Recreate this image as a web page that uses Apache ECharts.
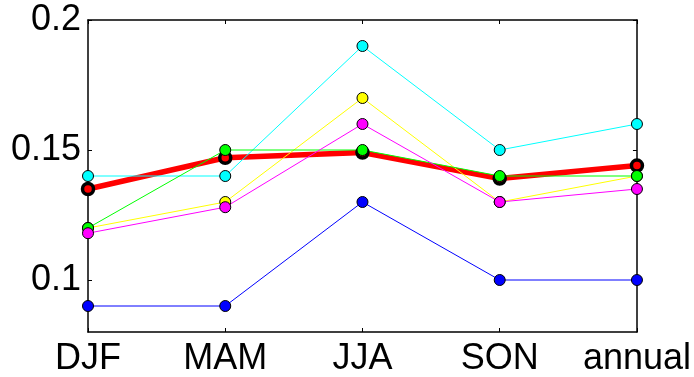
<!DOCTYPE html>
<html>
<head>
<meta charset="utf-8">
<script src="https://cdn.jsdelivr.net/npm/echarts@6/dist/echarts.min.js"></script>
<style>html,body{margin:0;padding:0;background:#fff;}#c{width:694px;height:377px;}</style>
</head>
<body>
<div id="c"></div>
<script>
const categories = ['DJF', 'MAM', 'JJA', 'SON', 'annual'];
const yTickValues = [0.1, 0.15, 0.2];
const redMean = [0.135, 0.147, 0.149, 0.139, 0.144];
const cyanSeries = [0.14, 0.14, 0.19, 0.15, 0.16];
const yellowSeries = [0.12, 0.13, 0.17, 0.13, 0.14];
const greenSeries = [0.12, 0.15, 0.15, 0.14, 0.14];
const magentaSeries = [0.118, 0.128, 0.16, 0.13, 0.135];
const blueSeries = [0.09, 0.09, 0.13, 0.10, 0.10];

const font = 'Liberation Sans, Arial, sans-serif';
function thin(name, data, color) {
  return {
    name, type: 'line', data, xAxisIndex: 0, yAxisIndex: 0,
    lineStyle: { color, width: 1 },
    itemStyle: { color, borderColor: '#000', borderWidth: 1 },
    symbol: 'circle', symbolSize: 11, showAllSymbol: true,
    animation: false
  };
}
const chart = echarts.init(document.getElementById('c'));
chart.setOption({
  animation: false,
  grid: { left: 88, right: 57, top: 20, bottom: 45 },
  xAxis: [
    { type: 'category', data: categories, boundaryGap: false, position: 'bottom',
      axisLine: { lineStyle: { color: '#000', width: 1.5 } },
      axisTick: { inside: true, length: 4, alignWithLabel: true, lineStyle: { color: '#000' } },
      axisLabel: { color: '#000', fontSize: 36, fontFamily: font, margin: 9, showMinLabel: true, showMaxLabel: true, interval: 0 },
      splitLine: { show: false } },
    { type: 'category', data: categories, boundaryGap: false, position: 'top',
      axisLine: { lineStyle: { color: '#000', width: 1.5 } },
      axisTick: { inside: true, length: 4, lineStyle: { color: '#000' } },
      axisLabel: { show: false }, splitLine: { show: false } }
  ],
  yAxis: [
    { type: 'value', min: 0.08, max: 0.2, position: 'left',
      axisLine: { show: true, lineStyle: { color: '#000', width: 1.5 } },
      axisTick: { show: true, inside: true, length: 4, customValues: yTickValues, lineStyle: { color: '#000' } },
      axisLabel: { color: '#000', fontSize: 36, fontFamily: font, margin: 7, customValues: yTickValues,
        formatter: v => String(Math.round(v * 100) / 100) },
      splitLine: { show: false } },
    { type: 'value', min: 0.08, max: 0.2, position: 'right',
      axisLine: { show: true, lineStyle: { color: '#000', width: 1.5 } },
      axisTick: { show: true, inside: true, length: 4, customValues: yTickValues, lineStyle: { color: '#000' } },
      axisLabel: { show: false }, splitLine: { show: false } }
  ],
  series: [
    { name: 'mean', type: 'line', data: redMean, xAxisIndex: 0, yAxisIndex: 0,
      lineStyle: { color: '#ff0000', width: 5.5 },
      itemStyle: { color: '#ff0000', borderColor: '#000', borderWidth: 3.5 },
      symbol: 'circle', symbolSize: 11, showAllSymbol: true },
    thin('cyan', cyanSeries, '#00ffff'),
    thin('yellow', yellowSeries, '#ffff00'),
    thin('green', greenSeries, '#00ff00'),
    thin('magenta', magentaSeries, '#ff00ff'),
    thin('blue', blueSeries, '#0000ff')
  ]
});
</script>
</body>
</html>
